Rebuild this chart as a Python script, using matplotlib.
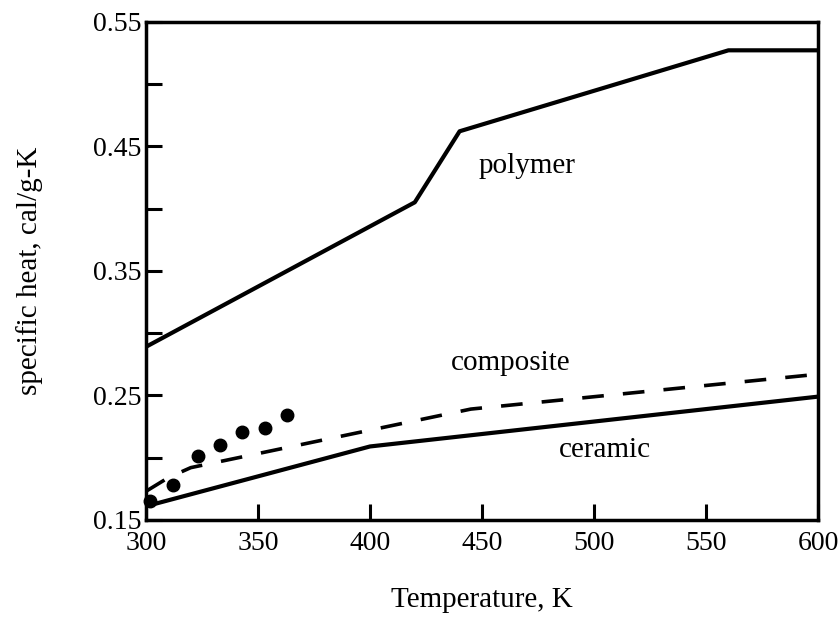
import matplotlib
matplotlib.use('Agg')
import matplotlib.pyplot as plt
import numpy as np

# values
polymer_T = [300, 420, 440, 560, 600]
polymer_cp = [0.289, 0.405, 0.462, 0.527, 0.527]

composite_T = [300, 310, 320, 445, 600]
composite_cp = [0.173, 0.184, 0.192, 0.239, 0.267]

ceramic_T = [300, 400, 600]
ceramic_cp = [0.161, 0.209, 0.249]

# measured points
meas_T = [302, 312, 323, 333, 343, 353, 363]
meas_cp = [0.165, 0.178, 0.201, 0.210, 0.221, 0.224, 0.234]

x_ticks = [300, 350, 400, 450, 500, 550, 600]
y_ticks = [0.15, 0.20, 0.25, 0.30, 0.35, 0.40, 0.45, 0.50, 0.55]
y_labels = ['0.15', '', '0.25', '', '0.35', '', '0.45', '', '0.55']

plt.rcParams['font.family'] = ['Liberation Serif', 'DejaVu Serif']

fig = plt.figure(figsize=(8.39, 6.19), dpi=100)
ax = fig.add_axes([0.174, 0.16, 0.801, 0.805])

ax.plot(polymer_T, polymer_cp, color='black', linewidth=3)
ax.plot(ceramic_T, ceramic_cp, color='black', linewidth=3)
ax.plot(composite_T, composite_cp, color='black', linewidth=2.6, linestyle=(0, (6, 5.3)))
ax.plot(meas_T, meas_cp, 'o', color='black', markersize=9, clip_on=False)

ax.text(470, 0.4285, 'polymer', fontsize=21, ha='center', va='baseline')
ax.text(463, 0.270, 'composite', fontsize=21, ha='center', va='baseline')
ax.text(505, 0.2006, 'ceramic', fontsize=21, ha='center', va='baseline')

ax.set_xlim(300, 600)
ax.set_ylim(0.15, 0.55)
ax.set_xticks(x_ticks)
ax.set_yticks(y_ticks)
ax.set_yticklabels(y_labels)
ax.tick_params(direction='in', length=11.5, width=2.2, labelsize=20)
ax.tick_params(axis='x', pad=8)
ax.tick_params(axis='y', pad=3)
for s in ax.spines.values():
    s.set_linewidth(2.5)

ax.set_xlabel('Temperature, K', fontsize=21, labelpad=22)
ax.set_ylabel('specific heat, cal/g-K', fontsize=21, labelpad=36)

fig.savefig('out.png', dpi=100)
